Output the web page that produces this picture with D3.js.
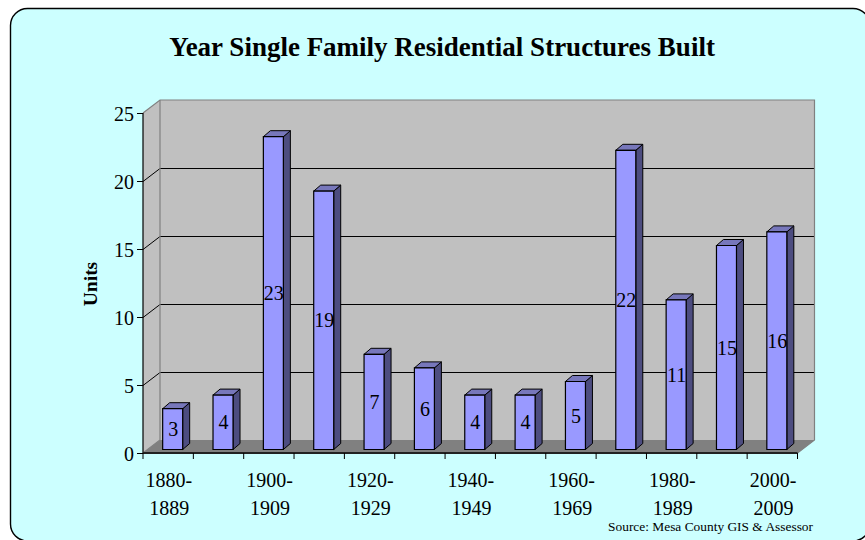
<!DOCTYPE html>
<html><head><meta charset="utf-8">
<script src="https://cdn.jsdelivr.net/npm/d3@7/dist/d3.min.js"></script>
<style>html,body{margin:0;padding:0;background:#fff}svg{display:block}text{font-family:"Liberation Serif","Times New Roman",serif;fill:#000}</style>
</head><body><div id="chart"></div>
<script>
const categories=["1880-1889","1890-1899","1900-1909","1910-1919","1920-1929","1930-1939","1940-1949","1950-1959","1960-1969","1970-1979","1980-1989","1990-1999","2000-2009"];
const values=[3,4,23,19,7,6,4,4,5,22,11,15,16];
const yTicks=[0,5,10,15,20,25];
const titleText="Year Single Family Residential Structures Built";
const yTitle="Units";
const sourceText="Source: Mesa County GIS & Assessor";

const W=865,H=540;
const pL=143,pR=797.5,pB=453,pT=113,depthX=17,depthY=13,barDX=7,barDY=6;
const svg=d3.select("#chart").append("svg").attr("width",W).attr("height",H);
const xs=d3.scaleBand().domain(categories).range([pL,pR]);
const ys=d3.scaleLinear().domain([0,25]).range([pB,pT]);
const poly=(pts,fill,stroke,sw)=>svg.append("polygon").attr("points",pts.map(p=>p.join(",")).join(" ")).attr("fill",fill).attr("stroke",stroke||"none").attr("stroke-width",sw||0);

svg.append("rect").attr("x",10.5).attr("y",8.5).attr("width",859.5).attr("height",532.5).attr("rx",17).attr("fill","#ccffff").attr("stroke","#000").attr("stroke-width",1.4);

// walls
poly([[pL,pB],[pL+depthX,pB-depthY],[pL+depthX,pT-depthY],[pL,pT]],"#c0c0c0");
poly([[pL+depthX,pB-depthY],[pR+depthX,pB-depthY],[pR+depthX,pT-depthY],[pL+depthX,pT-depthY]],"#c0c0c0");
poly([[pL,pB],[pR,pB],[pR+depthX,pB-depthY],[pL+depthX,pB-depthY]],"#808080");

// gridlines
yTicks.filter(t=>t>0&&t<25).forEach(t=>{
  const gy0=Math.round(ys(t))+0.5, gy1=Math.round(ys(t)-depthY)+0.5;
  svg.append("path").attr("d",`M${pL},${gy0}L${pL+depthX},${gy1}L${pR+depthX},${gy1}`).attr("fill","none").attr("stroke","#000").attr("stroke-width",1);
});
svg.append("path").attr("d",`M${pL},${pT}L${pL+depthX},${pT-depthY}L${pR+depthX},${pT-depthY}L${pR+depthX},${pB-depthY}L${pR},${pB}`).attr("fill","none").attr("stroke","#808080").attr("stroke-width",1.2);
svg.append("path").attr("d",`M${pL+depthX},${pT-depthY}V${pB-depthY}L${pL},${pB}`).attr("fill","none").attr("stroke","#808080").attr("stroke-width",1.2);

// bars
const barW=20;
const offX=4.5,offY=3.5;
values.forEach((v,i)=>{
  const c=xs(categories[i])+xs.bandwidth()/2+offX;
  const x0=c-barW/2,x1=c+barW/2,yb=pB-offY,yt=ys(v)-offY;
  poly([[x1,yt],[x1+barDX,yt-barDY],[x1+barDX,yb-barDY],[x1,yb]],"#4d4d80","#000",1);
  poly([[x0,yt],[x0+barDX,yt-barDY],[x1+barDX,yt-barDY],[x1,yt]],"#7777bb","#000",1);
  poly([[x0,yt],[x1,yt],[x1,yb],[x0,yb]],"#9999ff","#000",1.2);
  svg.append("text").attr("x",c+0.5).attr("y",(yt+yb)/2+7).attr("text-anchor","middle").attr("font-size",20).text(v);
});

// axes
const gy=svg.append("g").attr("transform",`translate(${pL},0)`).call(d3.axisLeft(ys).tickValues(yTicks).tickSize(6).tickPadding(3));
gy.select(".domain").attr("stroke","#000").attr("stroke-width",1.2).attr("d",`M0,${pT}V${pB}`);
gy.selectAll("text").attr("font-size",20).attr("font-family",'"Liberation Serif"').attr("dy","0.36em");
svg.append("line").attr("x1",pL).attr("x2",pR).attr("y1",pB).attr("y2",pB).attr("stroke","#222").attr("stroke-width",2);
d3.range(categories.length+1).forEach(i=>{
  const tx=i<categories.length?xs(categories[i]):pR;
  svg.append("line").attr("x1",tx).attr("x2",tx).attr("y1",pB).attr("y2",pB+6).attr("stroke","#000");
});
categories.forEach((cat,i)=>{
  if(i%2)return;
  const [a,b]=cat.split("-");
  const c=xs(cat)+xs.bandwidth()/2+0.7;
  const t=svg.append("text").attr("text-anchor","middle").attr("font-size",20);
  t.append("tspan").attr("x",c).attr("y",487).text(a+"-");
  t.append("tspan").attr("x",c+0.5).attr("y",515).text(b);
});

svg.append("text").attr("x",442).attr("y",56).attr("text-anchor","middle").attr("font-size",27).attr("font-weight","bold").text(titleText);
svg.append("text").attr("transform","translate(97,284) rotate(-90)").attr("text-anchor","middle").attr("font-size",19.5).attr("font-weight","bold").text(yTitle);
svg.append("text").attr("x",813).attr("y",531).attr("text-anchor","end").attr("font-size",13.4).text(sourceText);
</script></body></html>
